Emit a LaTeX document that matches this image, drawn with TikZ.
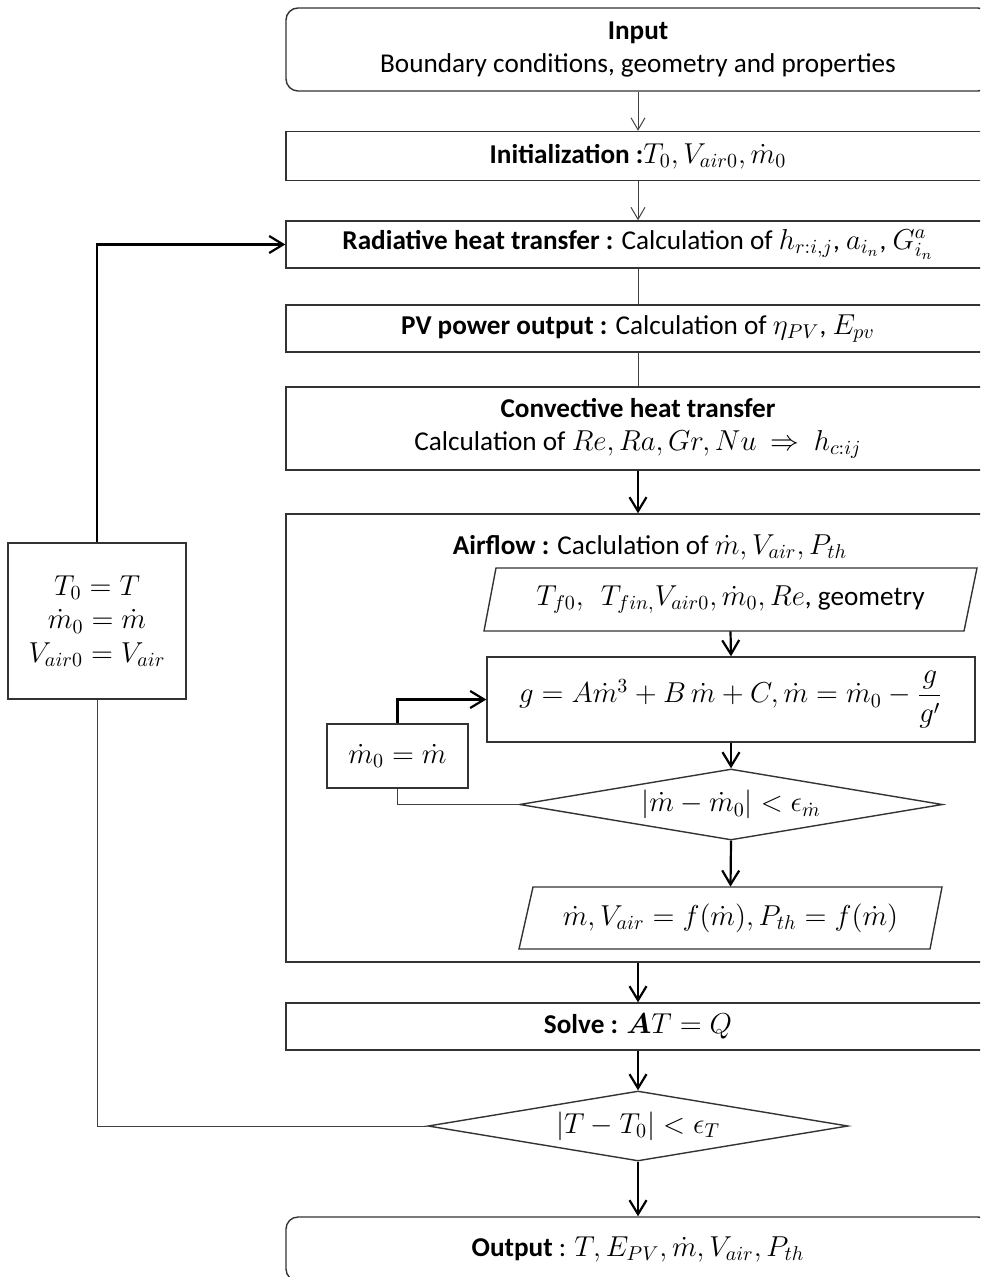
\documentclass[tikz,border=0pt]{standalone}
\usepackage{amsmath}
\usepackage{fontspec}
\setmainfont{Carlito}
\usetikzlibrary{arrows.meta,shapes.geometric,calc}

\tikzset{
  base/.style={font=\fontsize{13.6}{16.5}\selectfont, align=center, inner sep=0pt},
  mathtext/.style={font=\fontsize{14.6}{16.8}\selectfont},
  box/.style={base, draw=black!80, line width=0.7pt, minimum width=352pt},
  rbox/.style={box, rounded corners=6pt},
  smallbox/.style={base, draw=black!80, line width=0.7pt},
  decision/.style={base, diamond, draw=black!80, line width=0.7pt, aspect=6},
  label/.style={base},
  thinarrow/.style={draw=black!75, line width=0.5pt, -{Straight Barb[length=6pt,width=7pt]}},
  thinline/.style={draw=black!75, line width=0.5pt},
  thickarrow/.style={draw=black, line width=1.1pt, -{Straight Barb[length=7pt,width=8.5pt]}},
  thickline/.style={draw=black, line width=1.1pt},
  slanted/.style={draw=black!80, line width=0.7pt}
}

\begin{document}
\begin{tikzpicture}[x=0.5pt, y=-0.5pt]
  \useasboundingbox (0,0) rectangle (980,1277);
  \clip (0,0) rectangle (980,1277);

  % main column
  \node[rbox, minimum height=41.5pt] (in) at (638,49.5)
    {\textbf{Input}\\Boundary conditions, geometry and properties};
  \node[box, minimum height=24.5pt] (init) at (638,156)
    {\textbf{Initialization :}$T_0,V_{air0},\dot{m}_0$};
  \node[box, minimum height=23.5pt] (rad) at (638,244.5)
    {\textbf{Radiative heat transfer :} Calculation of $h_{r:i,j}$, $a_{i_n}$, $G^{a}_{i_n}$};
  \node[box, minimum height=23.5pt] (pv) at (638,328.5)
    {\textbf{PV power output :} Calculation of $\eta_{PV}$, $E_{pv}$};
  \node[box, minimum height=41.5pt] (conv) at (638,428.5)
    {\textbf{Convective heat transfer}\\Calculation of $Re, Ra, Gr, Nu\ \Rightarrow\ h_{c:ij}$};
  \node[box, minimum height=224pt] (air) at (638,738) {};
  \node[label] (airtitle) at (650,547)
    {\textbf{Airflow :} Caclulation of $\dot{m}, V_{air}, P_{th}$};
  \node[box, minimum height=23.5pt] (solve) at (638,1026.5)
    {\textbf{Solve :} $\boldsymbol{A}T = Q$};
  \node[decision, mathtext, minimum width=210pt, minimum height=35pt] (dT) at (638,1126)
    {$|T - T_0| < \epsilon_T$};
  \node[rbox, minimum height=32pt] (out) at (638,1249)
    {\textbf{Output} : $T, E_{PV}, \dot{m}, V_{air}, P_{th}$};

  % airflow sub-chart
  \node[label, minimum width=240pt, minimum height=31.5pt] (pa) at (730.5,599.5)
    {$T_{f0},\ \ T_{fin,} V_{air0}, \dot{m}_0, Re$, geometry};
  \draw[slanted] (496,568) -- (977,568) -- (964,631) -- (484,631) -- cycle;
  \node[smallbox, mathtext, minimum width=244pt, minimum height=42.5pt] (g) at (731,699.5)
    {$g = A\dot{m}^3 + B\,\dot{m} + C, \dot{m} = \dot{m}_0 - \dfrac{g}{g'}$};
  \node[decision, mathtext, minimum width=211.5pt, minimum height=35.5pt] (dm) at (731,804.5)
    {$|\dot{m} - \dot{m}_0| < \epsilon_{\dot{m}}$};
  \node[label, mathtext, minimum width=200pt, minimum height=31pt] (pb) at (730.5,918)
    {$\dot{m}, V_{air} = f(\dot{m}), P_{th} = f(\dot{m})$};
  \draw[slanted] (533,887) -- (942,887) -- (930,949) -- (519,949) -- cycle;
  \node[smallbox, mathtext, minimum width=70.5pt, minimum height=32pt] (m0) at (397.5,756)
    {$\dot{m}_0 = \dot{m}$};

  % loop update box
  \node[smallbox, mathtext, minimum width=89pt, minimum height=78pt] (lp) at (97,621)
    {$T_0 = T$\\$\dot{m}_0 = \dot{m}$\\$V_{air0} = V_{air}$};

  % connectors
  \draw[thinarrow] (in.south) -- (init.north);
  \draw[thinarrow] (init.south) -- (rad.north);
  \draw[thinline] (rad.south) -- (pv.north);
  \draw[thinline] (pv.south) -- (conv.north);
  \draw[thickarrow] (conv.south) -- (air.north);
  \draw[thickarrow] (pa.south) -- (g.north);
  \draw[thickarrow] (g.south) -- (dm.north);
  \draw[thickarrow] (dm.south) -- (pb.north);
  \draw[thickarrow] (air.south) -- (solve.north);
  \draw[thickarrow] (solve.south) -- (dT.north);
  \draw[thickarrow] (dT.south) -- (out.north);

  \draw[thinline] (dm.west) -| (m0.south);
  \draw[thickarrow] (m0.north) |- (g.west);
  \draw[thinline] (dT.west) -| (lp.south);
  \draw[thickarrow] (lp.north) |- (rad.west);
\end{tikzpicture}
\end{document}
